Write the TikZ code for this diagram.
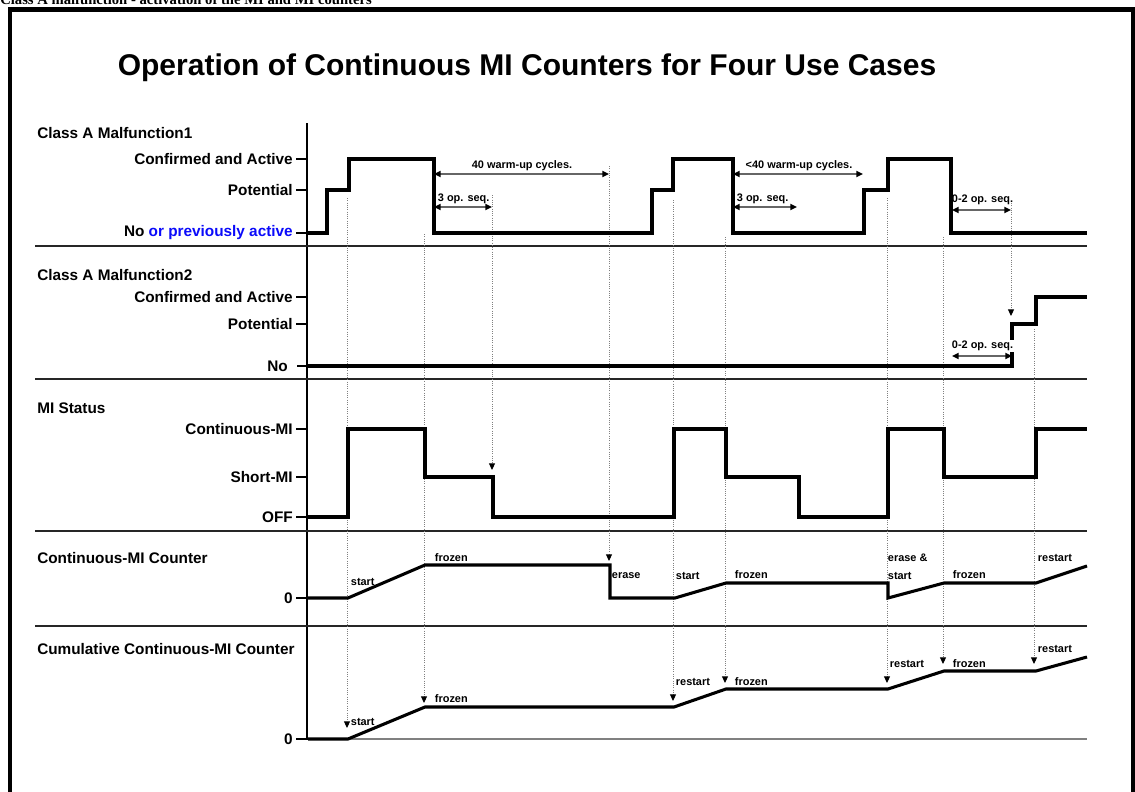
\documentclass[tikz,border=0pt]{standalone}
\usepackage{fontspec}
\setmainfont{Liberation Sans}
\newfontfamily\headserif{Liberation Serif}
\usetikzlibrary{arrows.meta}
\definecolor{prevblue}{RGB}{10,10,250}

\tikzset{trace/.style={line width=2.3pt},
  sepline/.style={line width=1.2pt,black!85},
  tickline/.style={line width=0.8pt},
  evt/.style={gray,densely dotted,line width=0.7pt,-{Triangle[black,length=5pt,width=4.5pt]}},
  span/.style={black!60,line width=1.5pt,{Triangle[black,length=5pt,width=4.5pt]}-{Triangle[black,length=5pt,width=4.5pt]}},
  lvl/.style={anchor=east,inner sep=0pt,font=\fontsize{11.5}{13}\selectfont\bfseries},
  sect/.style={anchor=west,inner sep=0pt,font=\fontsize{11.5}{13}\selectfont\bfseries},
  note/.style={anchor=west,inner sep=0.5pt,font=\fontsize{8.2}{9}\selectfont\bfseries}}

\begin{document}
\begin{tikzpicture}[x=0.75pt,y=-0.75pt]
\useasboundingbox (0,0) rectangle (1135,792);
\clip (0,0) rectangle (1135,792);

% caption above the frame and the frame
\node[anchor=base west,inner sep=0pt,font=\headserif\fontsize{11}{13}\selectfont\bfseries] (cap) at (0,4.5)
  {Class A malfunction - activation of the MI and MI counters};
\draw[line width=3.2pt] (10.3,800) -- (10.3,9.5) -- (1133,9.5) -- (1133,800);
\node[font=\fontsize{22.5}{26}\selectfont\bfseries] (title) at (527,68)
  {Operation of Continuous MI Counters for Four Use Cases};

% axis and separators
\draw[line width=1.1pt] (307,123) -- (307,740);
\foreach \y in {246,379,531,626}
  \draw[sepline] (35,\y) -- (1087,\y);
\foreach \y in {159,190,233,297,324,429,477,517,598,739}
  \draw[tickline] (296,\y) -- (307,\y);

% section and level labels
\node[sect] (m1) at (37,133) {Class A Malfunction1};
\node[lvl] (m1c) at (293,159) {Confirmed and Active};
\node[lvl] (m1p) at (293,190) {Potential};
\node[lvl] (m1n) at (293,233) {No \textcolor{prevblue}{or previously active}};
\node[sect] (m2) at (37,275) {Class A Malfunction2};
\node[lvl] (m2c) at (293,297) {Confirmed and Active};
\node[lvl] (m2p) at (293,324) {Potential};
\node[lvl] (m2n) at (288,366) {No};
\node[sect] (mi) at (37,408) {MI Status};
\node[lvl] (mic) at (293,429) {Continuous-MI};
\node[lvl] (mis) at (293,477) {Short-MI};
\node[lvl] (mio) at (293,517) {OFF};
\node[sect] (cc) at (37,558) {Continuous-MI Counter};
\node[lvl] (cc0) at (293,598) {0};
\node[sect] (cu) at (37,649) {Cumulative Continuous-MI Counter};
\node[lvl] (cu0) at (293,739) {0};
\draw[tickline] (297,366) -- (307,366);

% event lines
\foreach \n/\x/\ya/\yb in {ea/347/198/728, eb/424/234/703, ec/492/195/470, ed/609/166/561,
    ee/673/200/701, ef/725/237/683, eg/887/198/683, eh/943/237/664, ei/1011/203/316, ej/1034/329/664} {
  \coordinate (\n-top) at (\x,\ya);
  \coordinate (\n-end) at (\x,\yb);
  \draw[evt] (\n-top) -- (\n-end);
}

% signals
\draw[trace] (308,233) -| (327,190) -| (349,159) -| (434,233) -| (652,190) -| (673,159)
  -| (733,233) -| (864,190) -| (888,159) -| (951,233) -- (1087,233);
\draw[trace] (308,366) -| (1012,324) -| (1036,297) -- (1087,297);
\draw[trace] (308,517) -| (348,429) -| (425,477) -| (493,517) -| (674,429) -| (726,477)
  -| (799,517) -| (888,429) -| (944,477) -| (1036,429) -- (1087,429);
\draw[trace] (308,598) -- (348,598) -- (425,565) -- (610,565) -- (610,598) -- (675,598)
  -- (726,583) -- (888,583) -- (888,598) -- (944,583) -- (1036,583) -- (1087,566);
\draw[gray,line width=1.1pt] (348,739) -- (1087,739);
\draw[trace] (308,739) -- (348,739) -- (425,707) -- (674,707) -- (726,689) -- (888,689)
  -- (944,671) -- (1036,671) -- (1087,657);

% durations
\coordinate (wa) at (434,174); \coordinate (wb) at (609,174);
\coordinate (oa) at (434,207); \coordinate (ob) at (492,207);
\coordinate (wc) at (733,174); \coordinate (wd) at (863,174);
\coordinate (oc) at (733,207); \coordinate (od) at (797,207);
\coordinate (qa) at (952,210); \coordinate (qb) at (1011,210);
\coordinate (qc) at (952,356); \coordinate (qd) at (1012,356);
\draw[span] (wa) -- (wb);
\draw[span] (oa) -- (ob);
\draw[span] (wc) -- (wd);
\draw[span] (oc) -- (od);
\draw[span] (qa) -- (qb);
\draw[span] (qc) -- (qd);
\node[note,anchor=center] (nw1) at (522,166) {40 warm-up cycles.};
\node[note] (no1) at (437,199) {3 op. seq.};
\node[note,anchor=center] (nw2) at (799,166) {<40 warm-up cycles.};
\node[note] (no2) at (736,199) {3 op. seq.};
\node[note] (nq1) at (951,200) {0-2 op. seq.};
\node[note,fill=white] (nq2) at (951,346) {0-2 op. seq.};

% counter notes
\node[note] (c1) at (350,582) {start};
\node[note] (c2) at (434,558) {frozen};
\node[note] (c3) at (611,576) {erase};
\node[note] (c4) at (675,576) {start};
\node[note] (c5) at (734,575) {frozen};
\node[note] (c6) at (887,558) {erase \&};
\node[note] (c7) at (887,576) {start};
\node[note] (c8) at (952,575) {frozen};
\node[note] (c9) at (1037,558) {restart};
\node[note] (u1) at (350,722) {start};
\node[note] (u2) at (434,699) {frozen};
\node[note] (u3) at (675,682) {restart};
\node[note] (u4) at (734,682) {frozen};
\node[note] (u5) at (889,664) {restart};
\node[note] (u6) at (952,664) {frozen};
\node[note] (u7) at (1037,649) {restart};
\end{tikzpicture}
\end{document}
